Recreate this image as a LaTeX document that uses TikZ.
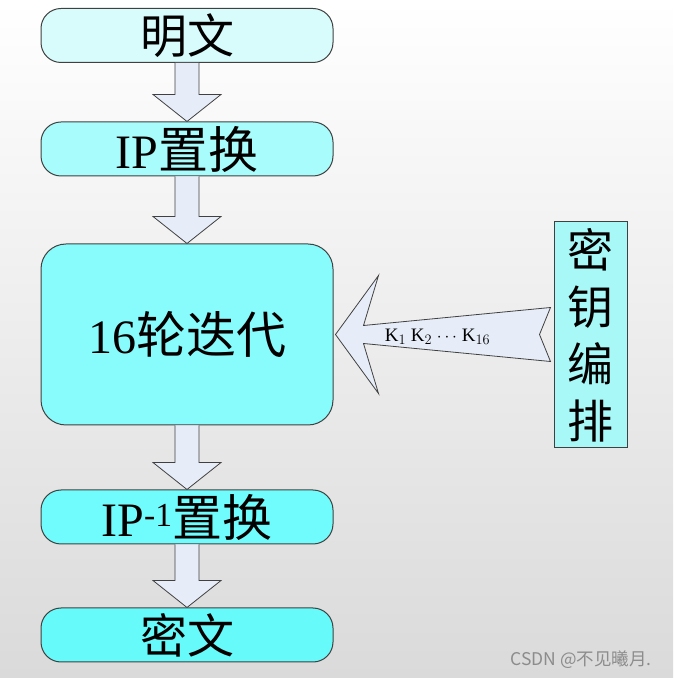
\documentclass[tikz,border=0pt]{standalone}
\usepackage{fontspec}
\setmainfont{Liberation Serif}
\newfontfamily\cjk{Noto Sans CJK SC}
\usetikzlibrary{calc}

\definecolor{bggrey}{HTML}{DADADA}
\definecolor{edgegrey}{HTML}{404040}
\definecolor{arrowfill}{HTML}{E6EDF8}
\definecolor{plaincol}{HTML}{D8FCFC}
\definecolor{ipcol}{HTML}{A8FCFC}
\definecolor{roundcol}{HTML}{88FCFC}
\definecolor{ipinvcol}{HTML}{70FCFC}
\definecolor{ciphercol}{HTML}{66FAFA}
\definecolor{keycol}{HTML}{A8F8F8}

\tikzset{
  stage/.style={draw=edgegrey, line width=1pt, rounded corners=20pt,
    minimum width=292pt, minimum height=54pt, inner sep=0pt,
    font=\fontsize{48}{52}\selectfont},
  fatarrow/.style={draw=edgegrey, line width=0.8pt, fill=arrowfill, line join=miter},
}

\begin{document}
\begin{tikzpicture}[x=1pt, y=1pt]
    % Background
    \shade[top color=white, bottom color=bggrey] (0,0) rectangle (673,678);

    % Stages
    \node[stage, fill=plaincol, font=\cjk\fontsize{47}{50}\selectfont] (plain) at (187,642.5) {明文};
    \node[stage, fill=ipcol] (ipbox) at (187,529) {IP{\cjk\fontsize{50}{54}\selectfont 置换}};
    \node[stage, fill=roundcol, minimum height=181pt, rounded corners=25pt] (rounds) at (187,343.5)
      {16{\cjk\fontsize{50}{54}\selectfont 轮迭代}};
    \node[stage, fill=ipinvcol] (ipinv) at (187,161) {IP\textsuperscript{-1}{\cjk\fontsize{50}{54}\selectfont 置换}};
    \node[stage, fill=ciphercol, font=\cjk\fontsize{47}{50}\selectfont] (cipher) at (187,43) {密文};

    % Key schedule
    \node[draw=edgegrey, line width=1pt, fill=keycol, minimum width=73pt, minimum height=226pt,
      inner sep=0pt, align=center, font=\cjk\fontsize{46}{57}\selectfont] (keysched) at (590.5,343)
      {密\\钥\\编\\排};

    % Down arrows
    \foreach \a/\b in {plain/ipbox, ipbox/rounds, rounds/ipinv, ipinv/cipher}
      \draw[fatarrow] ($(\a.south)+(-12,0)$) -- ($(\b.north)+(-12,27)$) -- ($(\b.north)+(-34,27)$)
        -- (\b.north) -- ($(\b.north)+(34,27)$) -- ($(\b.north)+(12,27)$) -- ($(\a.south)+(12,0)$);

    % Subkeys
    \coordinate (tip) at ($(rounds.east)+(2,0)$);
    \draw[fatarrow] (tip) -- ++(43,59) -- ++(-15,-50) -- ++(187,18) -- ++(-11,-27)
      -- ++(11,-27) -- ++(-187,18) -- ++(15,-50) -- cycle;
    \node[font=\fontsize{19}{22}\selectfont] (klist) at ($(tip)+(102,-2)$) {K$_1$ K$_2$ $\cdots$ K$_{16}$};

    % Watermark
    \node[text=black!45, font=\cjk\fontsize{17.5}{20}\selectfont] (mark) at (581,18) {CSDN @不见曦月.};
\end{tikzpicture}
\end{document}
